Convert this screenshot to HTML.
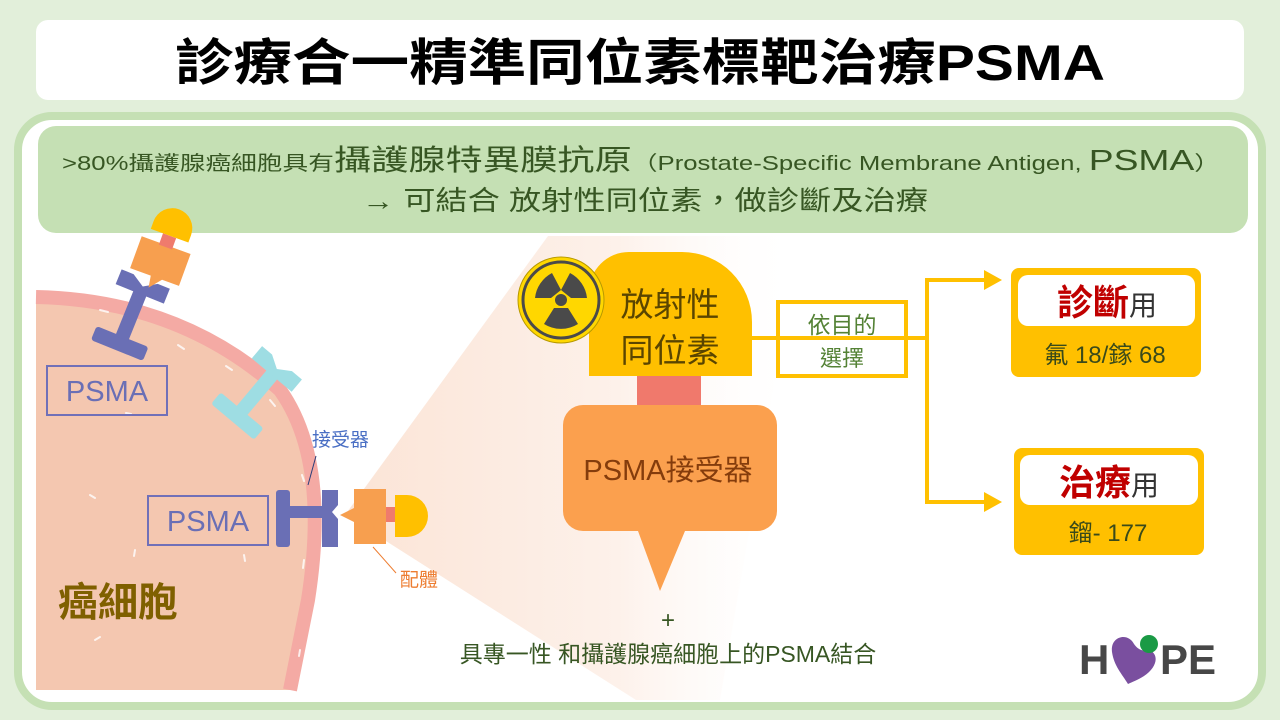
<!DOCTYPE html>
<html><head><meta charset="utf-8"><style>
html,body{margin:0;padding:0;width:1280px;height:720px;overflow:hidden;background:#e2efda}
svg{display:block}
text{font-family:"Liberation Sans","Noto Sans CJK TC",sans-serif}
</style></head><body>
<svg width="1280" height="720" viewBox="0 0 1280 720" xmlns="http://www.w3.org/2000/svg">
<defs>
<linearGradient id="cone" x1="0" y1="0" x2="1" y2="0">
<stop offset="0" stop-color="#fbe4d6"/><stop offset="0.6" stop-color="#fdf1ea"/><stop offset="1" stop-color="#ffffff" stop-opacity="0"/>
</linearGradient>
</defs>
<rect width="1280" height="720" fill="#e2efda"/>
<rect x="36" y="20" width="1208" height="80" rx="12" fill="#fff"/>
<text x="640" y="80" font-size="50" font-weight="bold" text-anchor="middle" fill="#000" textLength="930" lengthAdjust="spacingAndGlyphs">診療合一精準同位素標靶治療PSMA</text>

<rect x="18" y="116" width="1244" height="590" rx="34" fill="#fff" stroke="#c5e0b4" stroke-width="8"/>
<rect x="38" y="126" width="1210" height="107" rx="18" fill="#c5e0b4"/>
<text x="62" y="170" fill="#375623" textLength="1158" lengthAdjust="spacingAndGlyphs"><tspan font-size="20">&gt;80%攝護腺癌細胞具有</tspan><tspan font-size="29">攝護腺特異膜抗原</tspan><tspan font-size="20">（Prostate-Specific Membrane Antigen, </tspan><tspan font-size="29">PSMA</tspan><tspan font-size="20">）</tspan></text>
<text x="362" y="210" font-size="27" fill="#375623" textLength="566" lengthAdjust="spacingAndGlyphs">→ 可結合 放射性同位素，做診斷及治療</text>

<!-- cone -->
<polygon points="345,515 548,236 800,236 720,700 636,700" fill="url(#cone)"/>

<!-- cell -->
<path d="M36,297 Q180,300 280,390 Q330,460 308,600 L290,690 L36,690 Z" fill="#f4c7b0"/>
<path d="M36,297 Q180,300 280,390 Q330,460 308,600 L290,690" fill="none" stroke="#f4aaa4" stroke-width="14"/>
<g stroke="#fff" stroke-width="2" stroke-linecap="round" opacity="0.8" fill="none">
<path d="M100,310 l8,2"/><path d="M178,345 l6,4"/><path d="M226,366 l6,4"/><path d="M270,400 l5,6"/><path d="M302,475 l2,6"/><path d="M304,560 l-1,8"/><path d="M300,650 l-1,6"/><path d="M90,495 l5,3"/><path d="M135,550 l-1,6"/><path d="M244,555 l1,6"/><path d="M95,640 l5,-3"/><path d="M126,413 l5,1"/>
</g>

<!-- top receptor -->
<g transform="translate(130,318) rotate(22)" fill="#6a6fb5">
<rect x="-28" y="20" width="56" height="15" rx="3"/>
<rect x="-7" y="-28" width="14" height="50"/>
<path d="M-26,-42 L-13,-42 L0,-34 L13,-42 L26,-42 L26,-26 L-26,-26 Z"/>
</g>
<!-- top ligand -->
<g transform="translate(160,262) rotate(20)">
<path d="M-26,-18 h52 v34 h-18 l-10,12 l-2,-12 h-22 z" fill="#f79f4f"/>
<rect x="-7" y="-28" width="14" height="12" fill="#ef7b6d"/>
<path d="M-20,-28 v-8 a20,20 0 0 1 40,0 v8 z" fill="#ffc000"/>
</g>
<!-- cyan receptor -->
<g transform="translate(255,395) rotate(40)" fill="#9edde3">
<rect x="-28" y="20" width="56" height="15" rx="3"/>
<rect x="-7" y="-28" width="14" height="50"/>
<path d="M-26,-42 L-13,-42 L0,-34 L13,-42 L26,-42 L26,-26 L-26,-26 Z"/>
</g>
<!-- bottom receptor -->
<g fill="#6a6fb5">
<rect x="276" y="490" width="14" height="57" rx="3"/>
<rect x="288" y="506" width="36" height="12"/>
<path d="M322,490 h16 v15 l-6,7 l6,7 v28 h-16 z"/>
</g>
<!-- bottom ligand -->
<path d="M354,489 h32 v55 h-32 v-22 l-14,-7 l14,-7 z" fill="#f79f4f"/>
<rect x="386" y="507" width="10" height="15" fill="#ef7b6d"/>
<path d="M395,495 h12 a21,21 0 0 1 0,42 h-12 z" fill="#ffc000"/>

<rect x="47" y="366" width="120" height="49" fill="none" stroke="#7070b8" stroke-width="2"/>
<text x="107" y="401" font-size="29" text-anchor="middle" fill="#6a6fb5">PSMA</text>
<rect x="148" y="496" width="120" height="49" fill="none" stroke="#7070b8" stroke-width="2"/>
<text x="208" y="531" font-size="29" text-anchor="middle" fill="#6a6fb5">PSMA</text>
<text x="312" y="446" font-size="19" fill="#4a6fc4">接受器</text>
<line x1="316" y1="456" x2="308" y2="485" stroke="#2a3f7a" stroke-width="1"/>
<text x="400" y="586" font-size="19" fill="#ed7d31">配體</text>
<line x1="373" y1="547" x2="396" y2="573" stroke="#ed7d31" stroke-width="1"/>
<text x="58" y="616" font-size="40" font-weight="bold" fill="#7f6000">癌細胞</text>

<!-- isotope -->
<path d="M589,376 V292 a40,40 0 0 1 40,-40 H682 a70,70 0 0 1 70,70 V376 Z" fill="#ffc000"/>
<circle cx="561" cy="300" r="43" fill="#ffd700" stroke="#b79900" stroke-width="1"/>
<circle cx="561" cy="300" r="38" fill="none" stroke="#4a4a4a" stroke-width="3"/>
<g fill="#4a4a4a" transform="translate(561,300)">
<circle r="6"/>
<path d="M0,-10 L-9,-27 A32,32 0 0 0 -26,-2 L-10,-2 Z"/>
<path d="M0,-10 L9,-27 A32,32 0 0 1 26,-2 L10,-2 Z"/>
<path d="M-7,8 L-17,24 A32,32 0 0 0 17,24 L7,8 Z"/>
</g>
<text x="670" y="316" font-size="33" text-anchor="middle" fill="#5a4500">放射性</text>
<text x="670" y="362" font-size="33" text-anchor="middle" fill="#5a4500">同位素</text>
<rect x="637" y="376" width="64" height="30" fill="#f0796c"/>
<path d="M583,405 h174 a20,20 0 0 1 20,20 v86 a20,20 0 0 1 -20,20 h-72 l-25,60 l-22,-60 h-55 a20,20 0 0 1 -20,-20 v-86 a20,20 0 0 1 20,-20 z" fill="#fba04e"/>
<text x="668" y="480" font-size="29" text-anchor="middle" fill="#843c0c">PSMA接受器</text>
<text x="668" y="628" font-size="24" text-anchor="middle" fill="#375623">+</text>
<text x="668" y="662" font-size="23" text-anchor="middle" fill="#375623">具專一性 和攝護腺癌細胞上的PSMA結合</text>

<!-- connectors -->
<g stroke="#ffc000" stroke-width="4" fill="none">
<line x1="752" y1="338" x2="927" y2="338"/>
<rect x="778" y="302" width="128" height="74" fill="#fff"/>
<line x1="778" y1="338" x2="906" y2="338"/>
<polyline points="985,280 927,280 927,502 985,502"/>
</g>
<polygon points="1002,280 984,270 984,290" fill="#ffc000"/>
<polygon points="1002,502 984,492 984,512" fill="#ffc000"/>
<text x="842" y="333" font-size="23" text-anchor="middle" fill="#548235">依目的</text>
<text x="842" y="366" font-size="22" text-anchor="middle" fill="#548235">選擇</text>

<rect x="1011" y="268" width="190" height="109" rx="8" fill="#ffc000"/>
<rect x="1018" y="275" width="177" height="51" rx="10" fill="#fff"/>
<text x="1107" y="315" text-anchor="middle"><tspan font-size="36" font-weight="bold" fill="#c00000">診斷</tspan><tspan font-size="28" fill="#333">用</tspan></text>
<text x="1105" y="363" font-size="24" text-anchor="middle" fill="#3a4a1a">氟 18/鎵 68</text>

<rect x="1014" y="448" width="190" height="107" rx="8" fill="#ffc000"/>
<rect x="1020" y="455" width="178" height="50" rx="10" fill="#fff"/>
<text x="1109" y="495" text-anchor="middle"><tspan font-size="36" font-weight="bold" fill="#c00000">治療</tspan><tspan font-size="28" fill="#333">用</tspan></text>
<text x="1108" y="541" font-size="24" text-anchor="middle" fill="#3a4a1a">鎦- 177</text>

<!-- HOPE logo -->
<text x="1079" y="674" font-size="42" font-weight="bold" fill="#474747">H</text>
<path d="M1112,652 c-2,-16 16,-20 22,-8 c4,6 10,8 16,6 c10,6 6,18 -6,26 c-6,4 -12,6 -16,8 c-6,-10 -14,-18 -16,-32 z" fill="#7a4f9f"/>
<circle cx="1149" cy="644" r="9" fill="#1a9a45"/>
<text x="1160" y="674" font-size="42" font-weight="bold" fill="#474747">PE</text>
</svg>
</body></html>
